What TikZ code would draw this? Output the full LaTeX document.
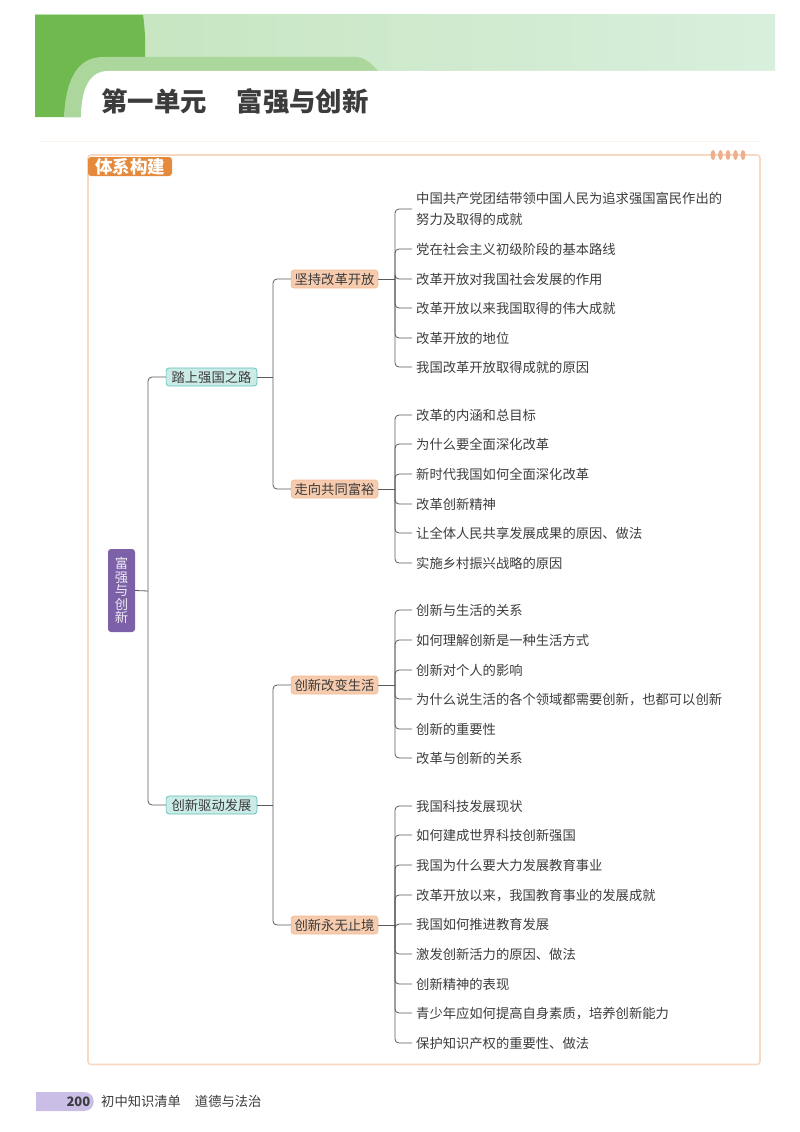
\documentclass[tikz,border=0pt]{standalone}
\usepackage{fontspec}
\setmainfont{Noto Sans CJK SC}
\definecolor{bandL}{HTML}{C4E4BC}
\definecolor{bandR}{HTML}{D8EFDD}
\definecolor{darkgreen}{HTML}{6FB94F}
\definecolor{midgreen}{HTML}{ABD79C}
\definecolor{framecol}{HTML}{F7D8C2}
\definecolor{labelcol}{HTML}{E58A3C}
\definecolor{beadcol}{HTML}{EDAF8C}
\definecolor{tealfill}{HTML}{CBEBE6}
\definecolor{tealline}{HTML}{62BFBB}
\definecolor{orfill}{HTML}{F6CBAE}
\definecolor{orline}{HTML}{F3BC94}
\definecolor{rootcol}{HTML}{7C60A8}
\definecolor{footcol}{HTML}{CABEE6}
\definecolor{inkcol}{HTML}{3C3C3C}
\definecolor{linecol}{HTML}{5A5A5A}
\begin{document}
\begin{tikzpicture}[x=1pt, y=-1pt, line join=round, font=\fontsize{13.3}{21}\selectfont, text=inkcol]
	\tikzset{conn/.style={draw=linecol, line width=0.8pt},
		branch/.style={conn, rounded corners=4pt},
		leafnode/.style={anchor=west, inner xsep=4pt, inner ysep=0pt, align=left},
		oneline/.style={text height=11.8pt, text depth=1.8pt},
		hubone/.style={oneline, draw=tealline, fill=tealfill, line width=0.7pt, rounded corners=3pt, inner xsep=5.5pt, inner ysep=0pt, minimum height=18pt},
		hubtwo/.style={oneline, draw=orline, fill=orfill, line width=0.7pt, rounded corners=3pt, inner xsep=3.5pt, inner ysep=0pt, minimum height=18pt},
		bead/.style={fill=beadcol, x radius=2.4pt, y radius=5pt}}
	\useasboundingbox (0,0) rectangle (800,1132);
	% page head
	\fill[left color=bandL, right color=bandR] (35,15) rectangle (775,71);
	\fill[darkgreen] (35,15)--(143,15) .. controls (146,35) and (145,50) .. (145,71)--(145,117)--(35,117)--cycle;
	\fill[midgreen] (64,117) .. controls (66,75) and (80,57) .. (103,57)--(357,57) .. controls (366,58) and (372,64) .. (378,71)--(378,117)--cycle;
	\fill[white] (81,118) .. controls (81,88) and (90,71) .. (108,71)--(777,71)--(777,118)--cycle;
	\node[anchor=west, inner sep=0pt, font=\fontsize{26.4}{30}\bfseries] (title) at (101,101) {第一单元\hspace{30pt}富强与创新};
	\draw[line width=1pt, draw=framecol!30] (40,141)--(760,141);
	% frame
	\draw[line width=1.6pt, draw=framecol, rounded corners=3pt] (88,155) rectangle (760,1064.5);
	\node[fill=labelcol, text=white, rounded corners=3pt, minimum width=84pt, minimum height=19pt, inner sep=0pt, font=\fontsize{17.5}{20}\bfseries] (tag) at (130,166.5) {体系构建};
	\foreach \bx in {713,720.5,728,735.5,743}
		\fill[bead] (\bx,155) circle;
	% map
	\node[fill=rootcol, text=white!88!rootcol, rounded corners=3pt, minimum width=27pt, minimum height=83pt, inner sep=0pt, align=center, font=\fontsize{13.3}{13.4}\selectfont] (root) at (121.5,590.5) {富\\强\\与\\创\\新};
	\node[hubone] (road) at (211.5,377) {踏上强国之路};
	\node[hubone] (drive) at (211.5,805) {创新驱动发展};
	\node[hubtwo] (open) at (334.5,279) {坚持改革开放};
	\node[hubtwo] (rich) at (334.5,489) {走向共同富裕};
	\node[hubtwo] (life) at (334.5,685) {创新改变生活};
	\node[hubtwo] (limit) at (334.5,925) {创新永无止境};
	\coordinate (rootJ) at (148,591);
	\coordinate (roadJ) at (273,377);
	\coordinate (driveJ) at (273,805);
	\coordinate (openJ) at (395,279);
	\coordinate (richJ) at (395,489);
	\coordinate (lifeJ) at (395,685);
	\coordinate (limitJ) at (395,925);
	\draw[conn] (root.east)--(rootJ);
	\draw[branch] (rootJ) |- (road.west);
	\draw[branch] (rootJ) |- (drive.west);
	\draw[conn] (road.east)--(roadJ);
	\draw[conn] (drive.east)--(driveJ);
	\draw[branch] (roadJ) |- (open.west);
	\draw[branch] (roadJ) |- (rich.west);
	\draw[branch] (driveJ) |- (life.west);
	\draw[branch] (driveJ) |- (limit.west);
	\draw[conn] (open.east)--(openJ);
	\draw[conn] (rich.east)--(richJ);
	\draw[conn] (life.east)--(lifeJ);
	\draw[conn] (limit.east)--(limitJ);
	\node[leafnode] (openL1) at (412,209) {中国共产党团结带领中国人民为追求强国富民作出的\\努力及取得的成就};
	\draw[branch] (openJ) |- (openL1.west);
	\foreach \y/\txt [count=\i from 2] in {249/党在社会主义初级阶段的基本路线, 279/改革开放对我国社会发展的作用, 308/改革开放以来我国取得的伟大成就, 338/改革开放的地位, 367/我国改革开放取得成就的原因}{
		\node[leafnode, oneline] (openL\i) at (412,\y) {\txt};
		\draw[branch] (openJ) |- (openL\i.west);}
	\foreach \y/\txt [count=\i] in {415/改革的内涵和总目标, 444/为什么要全面深化改革, 474/新时代我国如何全面深化改革, 504/改革创新精神, 533/让全体人民共享发展成果的原因、做法, 563/实施乡村振兴战略的原因}{
		\node[leafnode, oneline] (richL\i) at (412,\y) {\txt};
		\draw[branch] (richJ) |- (richL\i.west);}
	\foreach \y/\txt [count=\i] in {610/创新与生活的关系, 640/如何理解创新是一种生活方式, 670/创新对个人的影响, 699/为什么说生活的各个领域都需要创新，也都可以创新, 729/创新的重要性, 758/改革与创新的关系}{
		\node[leafnode, oneline] (lifeL\i) at (412,\y) {\txt};
		\draw[branch] (lifeJ) |- (lifeL\i.west);}
	\foreach \y/\txt [count=\i] in {806/我国科技发展现状, 835/如何建成世界科技创新强国, 865/我国为什么要大力发展教育事业, 895/改革开放以来，我国教育事业的发展成就, 924/我国如何推进教育发展, 954/激发创新活力的原因、做法, 984/创新精神的表现, 1013/青少年应如何提高自身素质，培养创新能力, 1043/保护知识产权的重要性、做法}{
		\node[leafnode, oneline] (limitL\i) at (412,\y) {\txt};
		\draw[branch] (limitJ) |- (limitL\i.west);}
	% page foot
	\fill[footcol] (36,1092)--(84,1092) .. controls (97,1092) and (97,1111) .. (84,1111)--(36,1111)--cycle;
	\node[anchor=east, inner sep=0pt, font=\fontsize{13}{15}\bfseries] (pageno) at (90.5,1101.5) {200};
	\node[anchor=west, inner sep=0pt] (foot) at (101,1101.5) {初中知识清单\hspace{14pt}道德与法治};
\end{tikzpicture}
\end{document}
